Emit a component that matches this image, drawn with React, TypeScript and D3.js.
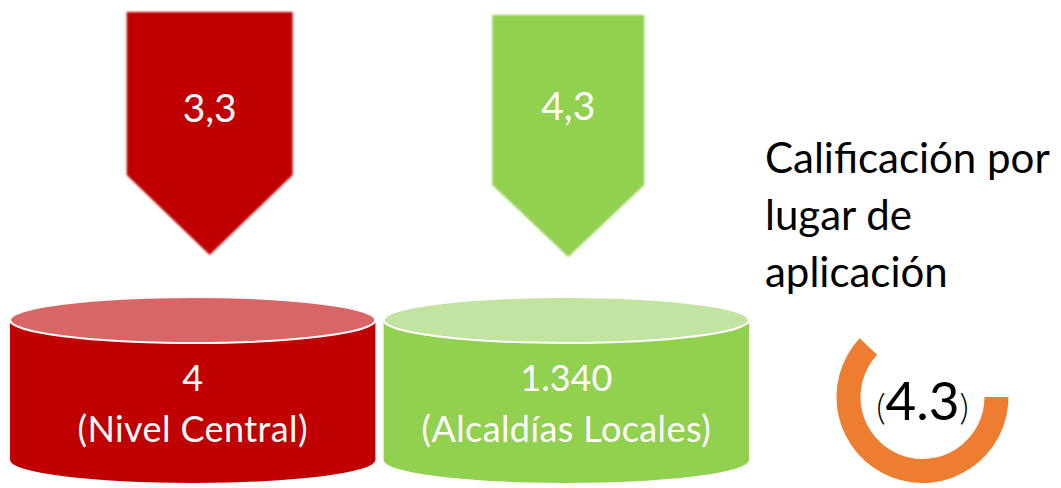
import React from 'react'
import * as d3 from 'd3'

// data
const GROUPS = ['Nivel Central', 'Alcaldías Locales']
const SCORES = [3.3, 4.3]          // average score shown in each arrow
const COUNTS = [4, 1340]           // number of applications per place
const OVERALL = 4.3                // overall score in the gauge
const TITLE_LINES = ['Calificación por', 'lugar de', 'aplicación']

// colours per group: arrow/body, cylinder top
const BODY_COLORS = ['#C00000', '#92D050']
const TOP_COLORS = ['#D96666', '#C3E3A0']
const GAUGE_COLOR = '#ED7D31'

// arrow shape per group (offset from band centre, half width, top, shoulder, tip)
const ARROW_LAYOUT = [
  { dx: 17, half: 83, top: 12, shoulder: 175, tip: 255, textY: 122 },
  { dx: 2, half: 76, top: 15, shoulder: 185, tip: 257, textY: 120 },
]

const esLocale = d3.formatLocale({ decimal: ',', thousands: '.', grouping: [3], currency: ['', ''] })
const fmtScore = esLocale.format('.1f')
const fmtCount = esLocale.format(',d')

const W = 1061
const H = 488
const FONT = 'Lato, "Open Sans", sans-serif'

export default function App() {
  const x = d3.scaleBand<string>().domain(GROUPS).range([10, 749]).paddingInner(0.022)
  const rx = x.bandwidth() / 2
  const topCy = 320
  const botCy = 460
  const ry = 23

  const gaugeCx = 922.5
  const gaugeCy = 397
  const arc = d3.arc<null>()
    .innerRadius(62)
    .outerRadius(86)
    .startAngle(Math.PI / 2)
    .endAngle((313 / 180) * Math.PI)

  return (
    <svg width={W} height={H} style={{ position: 'absolute', left: 0, top: 0, background: '#fff' }} fontFamily={FONT}>
      <defs>
        <filter id="soft" x="-10%" y="-10%" width="120%" height="120%">
          <feGaussianBlur stdDeviation="1.3" />
        </filter>
      </defs>

      {/* arrows */}
      {GROUPS.map((g, i) => {
        const a = ARROW_LAYOUT[i]
        const cx = (x(g) as number) + rx + a.dx
        const path = d3.path()
        path.moveTo(cx - a.half, a.top)
        path.lineTo(cx + a.half, a.top)
        path.lineTo(cx + a.half, a.shoulder)
        path.lineTo(cx, a.tip)
        path.lineTo(cx - a.half, a.shoulder)
        path.closePath()
        return (
          <g key={'arrow' + g}>
            <path d={path.toString()} fill={BODY_COLORS[i]} filter="url(#soft)" />
            <text x={cx} y={a.textY} textAnchor="middle" fill="#fff" fontSize={39}>
              {fmtScore(SCORES[i])}
            </text>
          </g>
        )
      })}

      {/* cylinders */}
      {GROUPS.map((g, i) => {
        const left = x(g) as number
        const right = left + x.bandwidth()
        const cx = left + rx
        const body = `M${left},${topCy} L${left},${botCy} A${rx},${ry} 0 0 0 ${right},${botCy} L${right},${topCy} Z`
        return (
          <g key={'cyl' + g}>
            <path d={body} fill={BODY_COLORS[i]} />
            <ellipse cx={cx} cy={topCy} rx={rx} ry={ry} fill={TOP_COLORS[i]} stroke="#fff" strokeWidth={2} />
            <text x={cx} y={391} textAnchor="middle" fill="#fff" fontSize={36}>
              {fmtCount(COUNTS[i])}
            </text>
            <text x={cx} y={442} textAnchor="middle" fill="#fff" fontSize={36} letterSpacing={0.4}>
              ({g})
            </text>
          </g>
        )
      })}

      {/* title */}
      <text x={765} y={173} fontSize={42} fill="#000">
        {TITLE_LINES.map((l, i) => (
          <tspan key={l} x={765} dy={i === 0 ? 0 : 57}>{l}</tspan>
        ))}
      </text>

      {/* gauge */}
      <g transform={`translate(${gaugeCx},${gaugeCy})`}>
        <path d={arc(null) as string} fill={GAUGE_COLOR} />
        <text x={0} y={23} textAnchor="middle" fill="#000">
          <tspan fontSize={36} fontWeight={300}>(</tspan>
          <tspan fontSize={53}>{d3.format('.1f')(OVERALL)}</tspan>
          <tspan fontSize={36} fontWeight={300}>)</tspan>
        </text>
      </g>
    </svg>
  )
}
